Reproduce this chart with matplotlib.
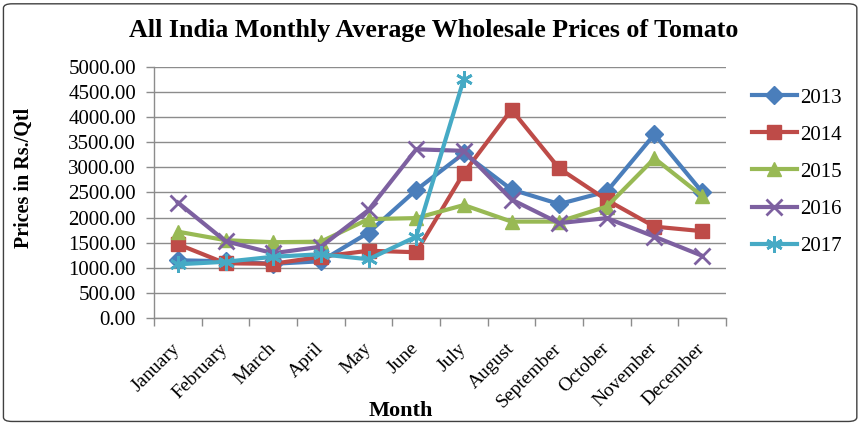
import numpy as np
import matplotlib.pyplot as plt
from matplotlib.patches import FancyBboxPatch
from matplotlib.ticker import FixedLocator, FuncFormatter

months = ["January", "February", "March", "April", "May", "June", "July",
          "August", "September", "October", "November", "December"]

p2013 = [1150, 1130, 1080, 1130, 1700, 2550, 3280, 2560, 2270, 2520, 3660, 2510]
p2014 = [1470, 1090, 1080, 1220, 1340, 1310, 2890, 4150, 2980, 2350, 1820, 1730]
p2015 = [1720, 1550, 1510, 1520, 1970, 1990, 2250, 1920, 1920, 2220, 3180, 2430]
p2016 = [2300, 1530, 1290, 1420, 2150, 3360, 3330, 2360, 1890, 1990, 1620, 1240]
p2017 = [1070, 1120, 1220, 1270, 1170, 1620, 4760]

series = [
    ("2013", p2013, "#4A7EBB", "D", 9),
    ("2014", p2014, "#BE4B48", "s", 10),
    ("2015", p2015, "#98B954", "^", 10),
    ("2016", p2016, "#7D60A0", "x", 11),
    ("2017", p2017, "#46AAC5", (6, 2, 0), 12),
]

plt.rcParams["font.family"] = ["Liberation Serif", "DejaVu Serif"]

fig = plt.figure(figsize=(8.62, 4.24), dpi=100)
border = FancyBboxPatch((0.004, 0.006), 0.99, 0.985, boxstyle="round,pad=0,rounding_size=0.01",
                        transform=fig.transFigure, fill=False, edgecolor="#404040", linewidth=1)
fig.patches.append(border)

ax = fig.add_axes([0.1787, 0.25, 0.6635, 0.592])

x = np.arange(len(months))
for name, vals, color, marker, ms in series:
    xs = x[:len(vals)]
    mew = 2 if marker in ("x", (6, 2, 0)) else 1
    ax.plot(xs, vals, color=color, linewidth=3, marker=marker, markersize=ms,
            markeredgewidth=mew, markeredgecolor=color, label=name)

ax.set_xlim(-0.5, 11.5)
ax.set_ylim(0, 5000)
ax.yaxis.set_major_locator(FixedLocator(np.arange(0, 5001, 500)))
ax.yaxis.set_major_formatter(FuncFormatter(lambda v, p: f"{v:.2f}"))
ax.grid(axis="y", color="#8c8c8c", linewidth=1)
ax.set_axisbelow(True)

ax.set_xticks(x)
ax.set_xticklabels(months, rotation=45, ha="right", va="center", rotation_mode="anchor", fontsize=14)
ax.xaxis.set_minor_locator(FixedLocator(np.arange(-0.5, 12, 1)))
ax.tick_params(axis="x", which="major", length=0, pad=20)
ax.tick_params(axis="x", which="minor", length=6, color="#8c8c8c", width=1)
ax.tick_params(axis="y", length=6, color="#8c8c8c", width=1, labelsize=15, pad=7)

for s in ["top", "right"]:
    ax.spines[s].set_visible(False)
for s in ["left", "bottom"]:
    ax.spines[s].set_color("#8c8c8c")
    ax.spines[s].set_linewidth(1)

ax.set_ylabel("Prices in Rs./Qtl", fontsize=14.5, fontweight="bold", va="center")
ax.yaxis.set_label_coords(-0.228, 0.558)
ax.set_xlabel("Month", fontsize=16, fontweight="bold", va="center")
ax.xaxis.set_label_coords(0.432, -0.37)

fig.text(0.503, 0.929, "All India Monthly Average Wholesale Prices of Tomato",
         ha="center", va="center", fontsize=18.7, fontweight="bold")

ax.legend(loc="upper left", bbox_to_anchor=(752 / 862, 1 - 88 / 424), bbox_transform=fig.transFigure,
          frameon=False, fontsize=15, handlelength=2.16, labelspacing=0.84,
          handletextpad=0.15, borderaxespad=0, borderpad=0)

fig.savefig("out.png", dpi=100)
